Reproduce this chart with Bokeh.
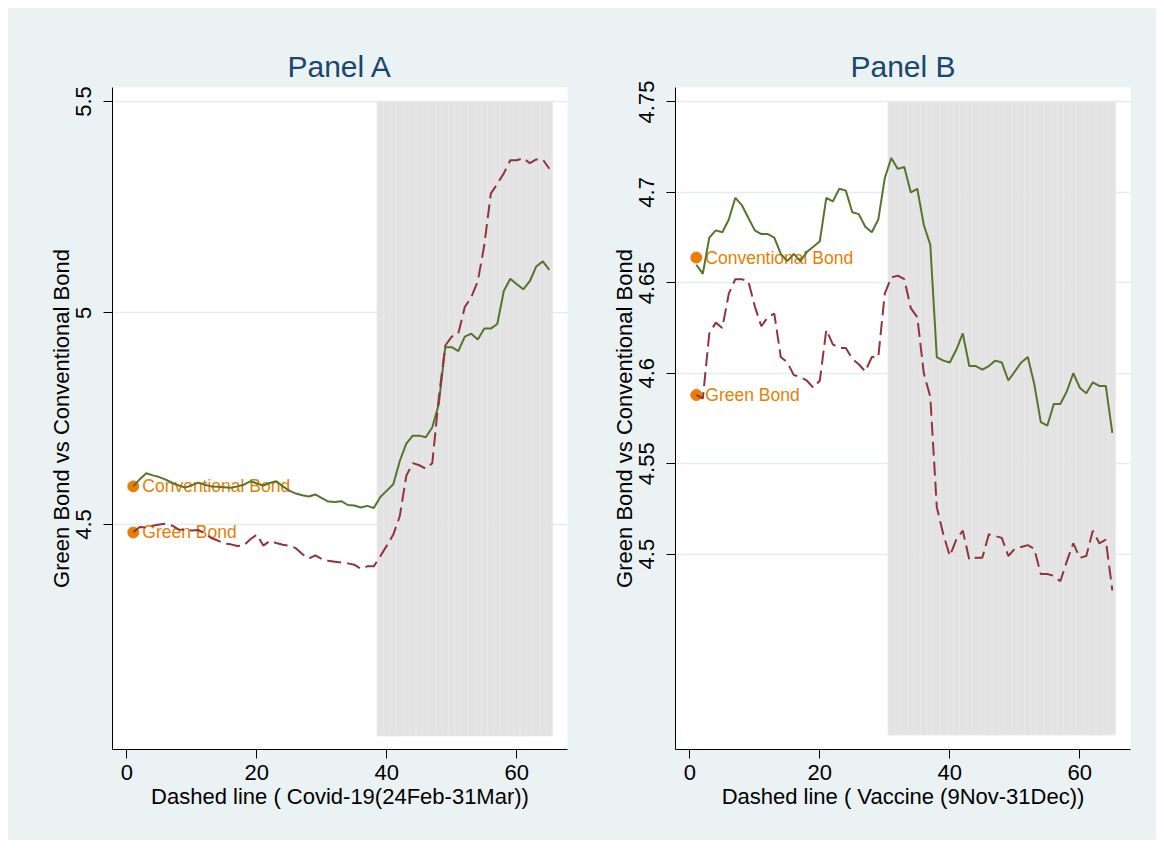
from bokeh.plotting import figure
from bokeh.layouts import row, column
from bokeh.models import Range1d, FixedTicker, CustomJSTickFormatter, Spacer
from bokeh.embed import file_html
from bokeh.resources import INLINE
from bokeh.core.properties import value

# ---------------- data ----------------
days = list(range(1, 66))

a_conventional = [4.590, 4.607, 4.621, 4.616, 4.612, 4.606, 4.598, 4.592, 4.587, 4.593,
                  4.599, 4.594, 4.590, 4.589, 4.588, 4.587, 4.590, 4.594, 4.602, 4.597,
                  4.592, 4.598, 4.602, 4.590, 4.580, 4.573, 4.569, 4.566, 4.571, 4.562,
                  4.554, 4.553, 4.555, 4.546, 4.545, 4.540, 4.544, 4.539, 4.565, 4.580,
                  4.595, 4.650, 4.691, 4.710, 4.710, 4.706, 4.730, 4.785, 4.919, 4.919,
                  4.910, 4.944, 4.951, 4.937, 4.963, 4.963, 4.974, 5.052, 5.081, 5.068,
                  5.056, 5.075, 5.110, 5.122, 5.102]
a_green = [4.482, 4.494, 4.493, 4.497, 4.500, 4.502, 4.497, 4.488, 4.487, 4.486,
           4.487, 4.478, 4.468, 4.462, 4.455, 4.453, 4.449, 4.450, 4.465, 4.476,
           4.450, 4.461, 4.456, 4.452, 4.450, 4.444, 4.430, 4.419, 4.427, 4.418,
           4.414, 4.412, 4.410, 4.408, 4.405, 4.395, 4.401, 4.401, 4.425, 4.450,
           4.476, 4.520, 4.615, 4.645, 4.640, 4.632, 4.645, 4.800, 4.923, 4.944,
           4.951, 5.014, 5.037, 5.075, 5.160, 5.282, 5.305, 5.330, 5.361, 5.361,
           5.366, 5.354, 5.363, 5.363, 5.341]

b_conventional = [4.660, 4.655, 4.675, 4.679, 4.678, 4.685, 4.697, 4.693, 4.686, 4.679,
                  4.677, 4.677, 4.675, 4.666, 4.662, 4.666, 4.662, 4.667, 4.670, 4.673,
                  4.697, 4.695, 4.702, 4.701, 4.689, 4.688, 4.681, 4.678, 4.685, 4.708,
                  4.719, 4.713, 4.714, 4.700, 4.702, 4.682, 4.671, 4.609, 4.607, 4.606,
                  4.613, 4.622, 4.604, 4.604, 4.602, 4.604, 4.607, 4.606, 4.596, 4.601,
                  4.606, 4.609, 4.594, 4.573, 4.571, 4.583, 4.583, 4.590, 4.600, 4.592,
                  4.589, 4.595, 4.593, 4.593, 4.567]
b_green = [4.588, 4.586, 4.622, 4.628, 4.625, 4.644, 4.652, 4.652, 4.651, 4.637,
           4.626, 4.631, 4.633, 4.609, 4.606, 4.599, 4.598, 4.596, 4.592, 4.596,
           4.624, 4.616, 4.614, 4.614, 4.608, 4.605, 4.601, 4.609, 4.609, 4.644,
           4.653, 4.654, 4.652, 4.636, 4.631, 4.600, 4.587, 4.526, 4.511, 4.499,
           4.508, 4.513, 4.497, 4.498, 4.498, 4.511, 4.510, 4.509, 4.499, 4.503,
           4.504, 4.505, 4.503, 4.489, 4.489, 4.488, 4.485, 4.496, 4.506, 4.498,
           4.499, 4.513, 4.506, 4.508, 4.480]

# marker-label points (Conventional Bond, Green Bond) at day 1
label_day = [1, 1]
a_label_y = [4.590, 4.481]
b_label_y = [4.664, 4.588]

a_event_days = list(range(39, 66))
b_event_days = list(range(31, 66))
a_shade = (4.0, 5.5)
b_shade = (4.40, 4.75)

x_ticks = [0, 20, 40, 60]
a_yticks = [4.5, 5.0, 5.5]
b_yticks = [4.5, 4.55, 4.6, 4.65, 4.7, 4.75]

series_names = ["Conventional Bond", "Green Bond"]
titles = ["Panel A", "Panel B"]
x_titles = ["Dashed line ( Covid-19(24Feb-31Mar))", "Dashed line ( Vaccine (9Nov-31Dec))"]
y_title = "Green Bond vs Conventional Bond"

# ---------------- style ----------------
FONT = "Liberation Sans"
BG = "#eaf2f3"
GREEN = "#55752f"
MAROON = "#90353b"
ORANGE = "#e87e04"
NAVY = "#1a476f"


def make_panel(title, xlabel, conv, green, label_y, event_days, shade, yr, yticks,
               width, b_left, b_right):
    p = figure(width=width, height=832, output_backend="svg", toolbar_location=None,
               x_range=Range1d(-2.2, 67.8), y_range=Range1d(*yr),
               min_border_left=b_left, min_border_right=b_right,
               min_border_top=79, min_border_bottom=91)
    p.border_fill_color = BG
    p.background_fill_color = "white"
    p.outline_line_color = None

    p.title.text = title
    p.title.text_font = FONT
    p.title.text_font_size = "30px"
    p.title.text_font_style = "normal"
    p.title.text_color = NAVY
    p.title.align = "center"
    p.title.standoff = 10

    # event-window shading (one bar per day)
    p.vbar(x=event_days, width=1, bottom=shade[0], top=shade[1],
           fill_color="#e3e3e3", line_color="#e9e9e9", line_width=0.8)

    # marker labels
    p.scatter(x=label_day, y=label_y, size=11, fill_color=ORANGE, line_color=ORANGE)
    p.text(x=label_day, y=label_y, text=series_names,
           text_font=value(FONT), text_font_size="17.5px", text_color=ORANGE,
           text_baseline="middle", text_align="left", x_offset=9)

    p.line(days, conv, line_color=GREEN, line_width=2)
    p.line(days, green, line_color=MAROON, line_width=2, line_dash="14 6")

    p.xaxis.ticker = FixedTicker(ticks=x_ticks)
    p.yaxis.ticker = FixedTicker(ticks=yticks)
    p.yaxis.formatter = CustomJSTickFormatter(code="return String(Number(tick.toFixed(2)));")
    p.yaxis.major_label_orientation = "vertical"

    for ax in (p.xaxis, p.yaxis):
        ax.axis_line_color = "black"
        ax.axis_line_width = 1
        ax.major_tick_line_color = "black"
        ax.major_tick_out = 9
        ax.major_tick_in = 0
        ax.minor_tick_line_color = None
        ax.major_label_text_font = FONT
        ax.major_label_text_font_size = "22px"
        ax.major_label_text_color = "black"
        ax.axis_label_text_font = FONT
        ax.axis_label_text_font_size = "22px"
        ax.axis_label_text_font_style = "normal"
        ax.axis_label_text_color = "black"
    p.xaxis.major_label_standoff = 6
    p.xaxis.axis_label_standoff = 1
    p.yaxis.major_label_standoff = 12
    p.yaxis.axis_label_standoff = 0
    p.xaxis.axis_label = xlabel
    p.yaxis.axis_label = y_title

    p.xgrid.grid_line_color = None
    p.ygrid.ticker = FixedTicker(ticks=yticks)
    p.ygrid.grid_line_color = "#e4ecee"
    p.ygrid.grid_line_width = 1.5
    return p


pa = make_panel(titles[0], x_titles[0], a_conventional, a_green, a_label_y, a_event_days,
                a_shade, (3.968, 5.533), a_yticks, 574, 104, 15)
pb = make_panel(titles[1], x_titles[1], b_conventional, b_green, b_label_y, b_event_days,
                b_shade, (4.392, 4.758), b_yticks, 574, 93, 26)

panels = row(pa, pb, spacing=0, styles={"background-color": BG})
layout = column(Spacer(height=8), row(Spacer(width=8), panels, spacing=0), spacing=0)
open("out.html", "w").write(file_html(layout, INLINE))
